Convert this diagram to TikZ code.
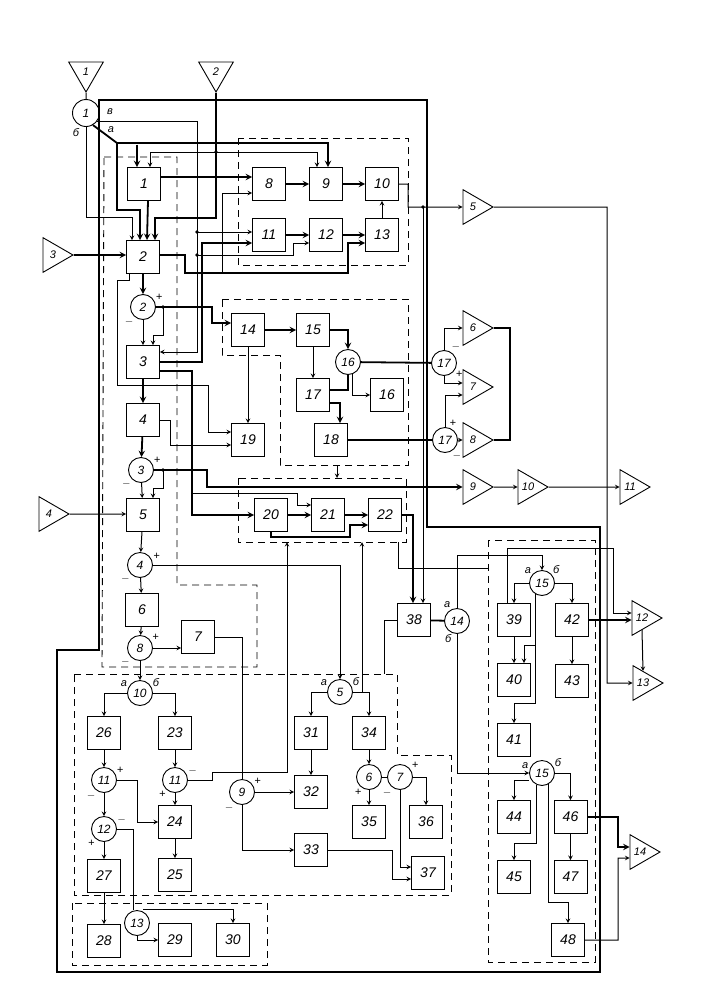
\documentclass[tikz,border=0pt]{standalone}
\usepackage{fontspec}
\setmainfont{Liberation Sans}
\usetikzlibrary{shapes.geometric, arrows.meta}
\tikzstyle{block} = [rectangle, draw=black, line width=0.9pt, minimum width=33pt, minimum height=33pt, inner sep=0pt, font=\fontsize{14}{14}\selectfont\itshape]
\tikzstyle{sum} = [circle, draw=black, line width=0.9pt, minimum size=25pt, inner sep=0pt, font=\fontsize{12}{12}\selectfont\itshape]
\tikzstyle{amp} = [regular polygon, regular polygon sides=3, shape border rotate=-90, draw=black, line width=0.9pt, minimum size=40pt, inner sep=0pt, font=\fontsize{11}{11}\selectfont\itshape]
\tikzstyle{ampdown} = [amp, shape border rotate=180]
\tikzstyle{sgn} = [font=\fontsize{11}{11}\selectfont\itshape, inner sep=1pt]
\tikzstyle{arrow} = [line width=1pt,->,>=stealth]
\tikzstyle{tarrow} = [line width=1.8pt,->,>=stealth]
\tikzstyle{tline} = [line width=1.8pt]
\tikzstyle{wire} = [line width=1pt]
\tikzstyle{group} = [dash pattern=on 7pt off 5pt, line width=0.9pt]
\tikzstyle{frame} = [line width=2.6pt]

\begin{document}
\begin{tikzpicture}[x=1pt, y=-1pt]
\useasboundingbox (0,0) rectangle (710,999);

%Frames==============================================
\draw[frame] (99,100) -- (427,100) -- (427,527) -- (600,527) -- (600,972) -- (57,972) -- (57,650) -- (99,650) -- cycle;
\draw[group] (238,138) rectangle (408,265);
\draw[group] (104,157) -- (177,157) -- (177,585) -- (257,585) -- (257,667) -- (102,667) -- cycle;
\draw[group] (222,299) -- (408,299) -- (408,465) -- (280,465) -- (280,355) -- (222,355) -- cycle;
\draw[group] (238,478) rectangle (406,542);
\draw[group] (488,540) rectangle (595,962);
\draw[group] (74,674) -- (397,674) -- (397,755) -- (451,755) -- (451,895) -- (74,895) -- cycle;
\draw[group] (72,903) rectangle (267,965);

%Amplifiers==========================================
\node (t1) [ampdown] at (86,72) {1};
\node (t2) [ampdown] at (216,72) {2};
\node (t3) [amp] at (53,255) {3};
\node (t4) [amp] at (49,514) {4};
\node (t5) [amp] at (473,207) {5};
\node (t6) [amp] at (473,328) {6};
\node (t7) [amp] at (473,387) {7};
\node (t8) [amp] at (473,440) {8};
\node (t9) [amp] at (473,487) {9};
\node (t10) [amp] at (528,487) {10};
\node (t11) [amp] at (630,487) {11};
\node (t12) [amp] at (642,618) {12};
\node (t13) [amp] at (643,683) {13};
\node (t14) [amp] at (640,852) {14};

%Blocks==============================================
\node (b1) [block] at (144,184) {1};
\node (b2) [block] at (143,257) {2};
\node (b3) [block] at (143,362) {3};
\node (b4) [block] at (143,420) {4};
\node (b5) [block] at (143,515) {5};
\node (b6) [block] at (142,610) {6};
\node (b7) [block] at (198,637) {7};
\node (b8) [block] at (269,184) {8};
\node (b9) [block] at (326,184) {9};
\node (b10) [block] at (382,184) {10};
\node (b11) [block] at (269,235) {11};
\node (b12) [block] at (326,235) {12};
\node (b13) [block] at (382,235) {13};
\node (b14) [block] at (248,330) {14};
\node (b15) [block] at (313,330) {15};
\node (b16) [block] at (387,395) {16};
\node (b17) [block] at (313,395) {17};
\node (b18) [block] at (331,440) {18};
\node (b19) [block] at (248,440) {19};
\node (b20) [block] at (271,515) {20};
\node (b21) [block] at (328,515) {21};
\node (b22) [block] at (385,515) {22};
\node (b23) [block] at (175,733) {23};
\node (b24) [block] at (175,822) {24};
\node (b25) [block] at (175,875) {25};
\node (b26) [block] at (104,733) {26};
\node (b27) [block] at (104,876) {27};
\node (b28) [block] at (104,941) {28};
\node (b29) [block] at (175,940) {29};
\node (b30) [block] at (233,940) {30};
\node (b31) [block] at (311,733) {31};
\node (b32) [block] at (311,792) {32};
\node (b33) [block] at (311,850) {33};
\node (b34) [block] at (369,733) {34};
\node (b35) [block] at (369,822) {35};
\node (b36) [block] at (426,822) {36};
\node (b37) [block] at (428,873) {37};
\node (b38) [block] at (414,620) {38};
\node (b39) [block] at (514,620) {39};
\node (b40) [block] at (514,680) {40};
\node (b41) [block] at (514,740) {41};
\node (b42) [block] at (572,620) {42};
\node (b43) [block] at (572,681) {43};
\node (b44) [block] at (514,817) {44};
\node (b45) [block] at (514,877) {45};
\node (b46) [block] at (570.5,817) {46};
\node (b47) [block] at (570.5,877) {47};
\node (b48) [block] at (568,940) {48};

%Summators===========================================
\node (s1) [sum, minimum size=27pt] at (86,113) {1};
\node (l1v) [sgn] at (110,112) {в};
\node (l1a) [sgn] at (111,130) {а};
\node (l1b) [sgn] at (76,133) {б};
\node (s2) [sum, label={[sgn]25:+}, label={[sgn]-130:$-$}] at (143,307) {2};
\node (s3) [sum, label={[sgn]25:+}, label={[sgn]-135:$-$}] at (141,470) {3};
\node (s4) [sum, label={[sgn]20:+}, label={[sgn]-135:$-$}] at (140,565) {4};
\node (s8) [sum, label={[sgn]30:+}, label={[sgn]-135:$-$}] at (140,648) {8};
\node (s10) [sum, label={[sgn]155:а}, label={[sgn]25:б}] at (140,693) {10};
\node (s5) [sum, label={[sgn]155:а}, label={[sgn]25:б}] at (340,692) {5};
\node (s11a) [sum, label={[sgn]25:+}, label={[sgn]-125:$-$}] at (104,780) {11};
\node (s11b) [sum, label={[sgn]20:$-$}, label={[sgn]-130:+}] at (175,780) {11};
\node (s12) [sum, label={[sgn]20:$-$}, label={[sgn]-130:+}] at (104,829) {12};
\node (s13) [sum] at (137,923) {13};
\node (s9) [sum, label={[sgn]30:+}, label={[sgn]-125:$-$}] at (242,792) {9};
\node (s6) [sum, label={[sgn]-120:+}] at (369,777) {6};
\node (s7) [sum, label={[sgn]35:+}, label={[sgn]-125:$-$}] at (400,777) {7};
\node (s16) [sum] at (348,362) {16};
\node (s17a) [sum, label={[sgn]60:$-$}, label={[sgn]-35:+}] at (444,363) {17};
\node (s17b) [sum, label={[sgn]75:+}, label={[sgn]-60:$-$}] at (445,440) {17};
\node (s14) [sum, label={[sgn]115:а}, label={[sgn]-110:б}] at (457,621) {14};
\node (s15a) [sum, label={[sgn]140:а}, label={[sgn]40:б}] at (542,583) {15};
\node (s15b) [sum, label={[sgn]165:а}, label={[sgn]25:б}] at (542,773) {15};

%Junctions===========================================
\coordinate (ja) at (117,143);
\coordinate (j2) at (216,152);
\coordinate (jv1) at (197,232);
\coordinate (jv2) at (197,255);
\coordinate (j3) at (222,273);
\coordinate (j5) at (423,207);
\coordinate (j6) at (163,307);
\coordinate (j7) at (163,470);
\coordinate (j8) at (192,493);
\coordinate (j9) at (362,692);
\coordinate (cOut) at (337,465);
\coordinate (dIn) at (337,478);
\coordinate (dIn1) at (287,542);
\coordinate (dIn2) at (362,542);
\coordinate (dOut) at (398,542);
\coordinate (eIn) at (488,568);
\coordinate (fIn) at (384,674);
\foreach \j in {j2,jv1,jv2,j5,j6,j7}
  \fill (\j) circle (1.8pt);

%Top part============================================
\draw[wire] (t1.south) -- (s1.north);
\draw[arrow] (s1.south) -- (86,217) -| ([xshift=-11pt]b2.north);
\draw[tarrow] (s1.-60) -- (ja) -| ([xshift=2pt]b9.north);
\draw[tarrow] (ja) -- (117,210) -| ([xshift=-3pt]b2.north);
\draw[tarrow] ([xshift=-7pt,yshift=22.5pt]b1.north) -- ([xshift=-7pt]b1.north);
\draw[arrow] (s1.-35) -| (197,352) -- ([yshift=10pt]b3.east);
\draw[arrow] (jv1) -- ([yshift=3pt]b11.west);
\draw[arrow] (jv2) -- (293,255) |- ([yshift=-8pt]b12.west);
\draw[tarrow] (t2.south) |- (155,218) -- ([xshift=12pt]b2.north);
\draw[arrow, <->] ([xshift=6pt]b1.north) |- (317,152) -- ([xshift=-9pt]b9.north);
\draw[tarrow] ([xshift=4pt]b1.south) -- ([xshift=4pt]b2.north);
\draw[tarrow] ([yshift=7pt]b1.east) -- ([yshift=7pt]b8.west);
\draw[tarrow] (b8) -- (b9);
\draw[tarrow] (b9) -- (b10);
\draw[tarrow] (b11) -- (b12);
\draw[tarrow] (b12) -- (b13);
\draw[arrow] (b13) -- (b10);
\draw[arrow] (j3) |- ([yshift=-9pt]b8.west);
\draw[tarrow] ([yshift=2pt]b2.east) -- (185,255) |- (348,273) |- ([yshift=-8pt]b13.west);
\draw[tarrow] (b3.east) -| (202,243) -- ([yshift=-8pt]b11.west);
\draw[arrow] (b10.east) -| (408,207) -- (t5.west);
\draw[arrow] (j5) -- ([xshift=9pt]b38.north);
\draw[arrow] (t5.east) -| (607,683) -- (t13.west);
\draw[tarrow] (t3.east) -- ([yshift=2pt]b2.west);
\draw[arrow] (t4.east) -- ([yshift=1pt]b5.west);

%Middle part=========================================
\draw[tarrow] (b2) -- (s2);
\draw[arrow] ([xshift=3pt]b2.south west) -- ++(0,6.5) -| (117,385) -| (208,432) -- ([yshift=8pt]b19.west);
\draw[arrow] (s2) -- (b3);
\draw[tarrow] (s2.east) -| (212,323) -- ([yshift=7pt]b14.west);
\draw[arrow] (j6) -- (163,335) -| ([xshift=10pt]b3.north);
\draw[tarrow] (b3) -- (b4);
\draw[tarrow] (b4) -- (s3);
\draw[arrow] (s3) -- (b5);
\draw[arrow] (b5) -- (s4);
\draw[arrow] (s4) -- (b6);
\draw[arrow] (b6) -- (s8);
\draw[arrow] (s8) -- (s10);
\draw[arrow] (s8.east) -- (b7.west |- s8.east);
\draw[tarrow] (s3.east) -| (207,487) -- (t9.west);
\draw[arrow] (j7) -- (163,488) -| ([xshift=10pt]b5.north);
\draw[tarrow] ([yshift=-9pt]b3.east) -| (192,515) -- (b20.west);
\draw[arrow] (j8) -| (297,505) -- ([yshift=10pt]b21.west);
\draw[arrow] (b4.east) -| (170,445) -- ([yshift=-5pt]b19.west);
\draw[tarrow] (b14) -- (b15);
\draw[arrow] (b14) -- (b19);
\draw[arrow] (b15) -- (b17);
\draw[tarrow] (b15.east) -| (s16.north);
\draw[tline] ([yshift=5pt]b17.east) -| (s16.south);
\draw[arrow] (s16.-70) |- (b16.west);
\draw[tarrow] ([yshift=-8pt]b17.east) -| ([xshift=9pt]b18.north);
\draw[tline] (s16) -- (s17a);
\draw[tline] (b18) -- (s17b);
\draw[arrow] (s17a.north) |- (t6.west);
\draw[arrow] (s17a.south) |- ([yshift=4pt]t7.west);
\draw[arrow] (s17b.north) |- ([yshift=-8pt]t7.west);
\draw[arrow] (s17b) -- (t8);
\draw[tline] (t6.east) -| (510,440) -- (t8.east);
\draw[arrow] (t9) -- (t10);
\draw[arrow] (t10) -- (t11);
\draw[arrow] (cOut) -- (dIn);

%Blocks 20-22 and 38=================================
\draw[tarrow] (b20) -- (b21);
\draw[tarrow] (b21) -- (b22);
\draw[tarrow] (b20.south) |- (350,537) |- ([yshift=-10pt]b22.west);
\draw[tarrow] (b22.east) -| ([xshift=-1pt]b38.north);
\draw[wire] (dOut) |- (eIn);
\draw[wire] (b38.west) -| (fIn);
\draw[tline] (b38) -- (s14);
\draw[arrow] (s14.north) |- ([yshift=15pt]s15a.north) -- (s15a.north);
\draw[arrow] (s14.south) |- (s15b.west);

%Right column========================================
\draw[arrow] (s15a.west) -| (b39.north);
\draw[arrow] (s15a.-120) |- ([xshift=10pt,yshift=18pt]b40.north) -- ([xshift=10pt]b40.north);
\draw[arrow] (s15a.-120) |- ([yshift=-7pt]b40.south) -- (b41.north);
\draw[arrow] (b39) -- (b40);
\draw[arrow] (s15a.east) -| (b42.north);
\draw[arrow] (b42) -- (b43);
\draw[arrow] ([xshift=-7pt]b39.north) |- (613,548) |- ([yshift=5pt]t12.west);
\draw[tarrow] (b42.east) -- (t12.west |- b42.east);
\draw[arrow] (t12.south) -- (t13.north);
\draw[arrow] ([yshift=-7pt]s15b.west) -| (b44.north);
\draw[arrow] (s15b.-115) |- ([yshift=17pt]b45.north) -- (b45.north);
\draw[arrow] (s15b.east) -| (b46.north);
\draw[arrow] (s15b.-60) |- ([yshift=21pt]b48.north) -- (b48.north);
\draw[arrow] (b46) -- (b47);
\draw[tarrow] (b46.east) -| (618,847) -- ([yshift=5pt]t14.west);
\draw[arrow] (b48.east) -| (618,858) -- ([yshift=-6pt]t14.west);

%Lower part==========================================
\draw[arrow] (s10.west) -| (b26.north);
\draw[arrow] (s10.east) -| (b23.north);
\draw[arrow] (b26) -- (s11a);
\draw[arrow] (b23) -- (s11b);
\draw[arrow] (s11a) -- (s12);
\draw[arrow] (s11a.east) -| ([xshift=-21pt]b24.west) -- (b24.west);
\draw[arrow] (s11b) -- (b24);
\draw[arrow] (b24) -- (b25);
\draw[arrow] (s12) -- (b27);
\draw[wire] (s12.east) -| ([xshift=-4pt]s13.north);
\draw[arrow] (b27) -- (b28);
\draw[arrow] (s13.south) |- (b29.west);
\draw[arrow] ([yshift=2pt]s13.60) -| (b30.north);
\draw[arrow] (s11b.east) -| (212,772) -| (dIn1);
\draw[arrow] (s4.east) -| (s5.north);
\draw[arrow] (s5.west) -| (b31.north);
\draw[arrow] (s5.east) -| (b34.north);
\draw[arrow] (j9) -- (dIn2);
\draw[wire] (b7.east) -| (s9.north);
\draw[arrow] (s9) -- (b32);
\draw[arrow] (s9.south) |- (b33.west);
\draw[arrow] (b31) -- (b32);
\draw[arrow] (b34) -- (s6);
\draw[arrow] (s6) -- (b35);
\draw[wire] (s6) -- (s7);
\draw[arrow] (s7.east) -| (b36.north);
\draw[arrow] (s7.south) |- ([yshift=6pt]b37.west);
\draw[arrow] (b33.east) -| ([xshift=-19pt,yshift=-6pt]b37.west) -- ([yshift=-6pt]b37.west);
\end{tikzpicture}
\end{document}
